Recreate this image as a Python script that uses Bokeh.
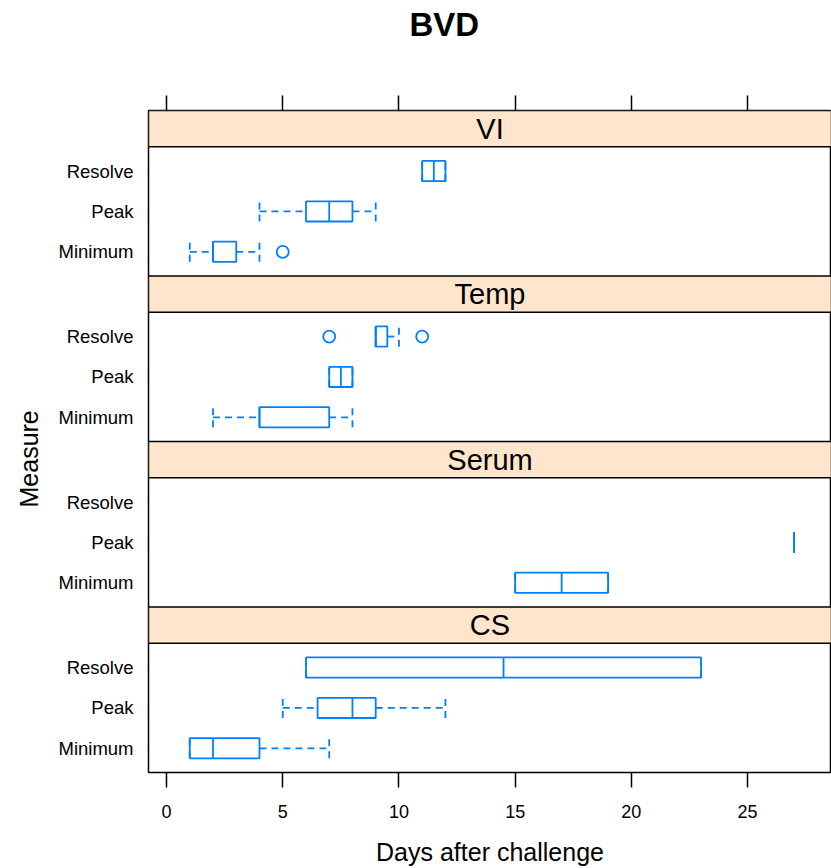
from bokeh.plotting import figure
from bokeh.models import Range1d, FixedTicker, LinearAxis, Title, ColumnDataSource
from bokeh.core.properties import value
from bokeh.embed import file_html
from bokeh.resources import INLINE

# ---------------- data ----------------
chart_title = "BVD"
panels = ["VI", "Temp", "Serum", "CS"]          # top to bottom
measures = ["Minimum", "Peak", "Resolve"]       # bottom to top inside a panel

box_panel = ["VI", "VI", "VI", "Temp", "Temp", "Temp", "Serum", "Serum", "CS", "CS", "CS"]
box_measure = ["Resolve", "Peak", "Minimum", "Resolve", "Peak", "Minimum",
               "Peak", "Minimum", "Resolve", "Peak", "Minimum"]
whisker_lo = [11, 4, 1, 9, 7, 2, 27, 15, 6, 5, 1]
q1 = [11, 6, 2, 9, 7, 4, 27, 15, 6, 6.5, 1]
median = [11.5, 7, 2, 9, 7.5, 4, 27, 17, 14.5, 8, 2]
q3 = [12, 8, 3, 9.5, 8, 7, 27, 19, 23, 9, 4]
whisker_hi = [12, 9, 4, 10, 8, 8, 27, 19, 23, 12, 7]

out_panel = ["VI", "Temp", "Temp"]
out_measure = ["Minimum", "Resolve", "Resolve"]
out_value = [5, 7, 11]

x_ticks = [0, 5, 10, 15, 20, 25]
x_label = "Days after challenge"
y_label = "Measure"

# ---------------- layout helpers ----------------
ROW = 10           # distance between rows in a panel
PANEL_LO = 4       # panel spans offset+4 .. offset+36
PANEL_HI = 36
STRIP = 9          # strip height
BLOCK = PANEL_HI - PANEL_LO + STRIP
HALF = 2.5         # half box height
BLUE = "#0080ff"
FONT = "Liberation Sans"
X0, X1 = -0.775, 28.61


def offset(panel):
    return (len(panels) - 1 - panels.index(panel)) * BLOCK


def ypos(panel, measure):
    return offset(panel) + (measures.index(measure) + 1) * ROW


ys = [ypos(pn, m) for pn, m in zip(box_panel, box_measure)]

p = figure(width=831, height=868, x_range=Range1d(X0, X1),
           y_range=Range1d(PANEL_LO, PANEL_LO + BLOCK * len(panels)),
           output_backend="svg", toolbar_location=None, x_axis_type=None, y_axis_type=None,
           min_border_left=148, min_border_right=0, min_border_top=110, min_border_bottom=95)
p.outline_line_color = "black"
p.outline_line_width = 1.5
p.background_fill_color = "white"
p.border_fill_color = "white"

# title
p.title.text = chart_title
p.title.align = "left"
p.title.offset = 261
p.title.text_font = FONT
p.title.text_font_size = "33px"
p.title.text_font_style = "bold"
p.title.text_color = "black"
p.title.standoff = 4

# strips
strip_src = ColumnDataSource(dict(
    left=[X0] * len(panels), right=[X1] * len(panels),
    bottom=[offset(pn) + PANEL_HI for pn in panels],
    top=[offset(pn) + PANEL_HI + STRIP for pn in panels],
    xc=[(X0 + X1) / 2] * len(panels),
    yc=[offset(pn) + PANEL_HI + STRIP / 2 for pn in panels], name=panels))
p.quad(left="left", right="right", bottom="bottom", top="top", source=strip_src,
       fill_color="#ffe5cc", line_color="black", line_width=1.5)
p.text(x="xc", y="yc", text="name", source=strip_src, text_align="center", text_baseline="middle",
       text_font=value(FONT), text_font_size=value("29px"), text_color="black")

src = ColumnDataSource(dict(y=ys, lo=whisker_lo, q1=q1, med=median, q3=q3, hi=whisker_hi,
                            yb=[y - HALF for y in ys], yt=[y + HALF for y in ys]))
# whiskers
for a, b in (("lo", "q1"), ("q3", "hi")):
    p.segment(x0=a, x1=b, y0="y", y1="y", source=src, line_color=BLUE, line_width=1.8, line_dash="7 5")
for c in ("lo", "hi"):
    p.segment(x0=c, x1=c, y0="yb", y1="yt", source=src, line_color=BLUE, line_width=1.8, line_dash="7 5")
# boxes
p.quad(left="q1", right="q3", bottom="yb", top="yt", source=src, fill_color=None,
       line_color=BLUE, line_width=1.8)
p.segment(x0="med", x1="med", y0="yb", y1="yt", source=src, line_color=BLUE, line_width=1.8)
# outliers
p.scatter(x=out_value, y=[ypos(pn, m) for pn, m in zip(out_panel, out_measure)], marker="circle",
          size=12, fill_color=None, line_color=BLUE, line_width=1.8)

# axes
xb = LinearAxis(ticker=FixedTicker(ticks=x_ticks), axis_label=x_label)
xb.axis_line_color = None
xb.major_tick_out = 15
xb.major_tick_in = 0
xb.minor_tick_out = 0
xb.minor_tick_in = 0
xb.major_tick_line_width = 1.5
xb.major_label_standoff = 17
xb.major_label_text_font = FONT
xb.major_label_text_font_size = "18px"
xb.major_label_text_color = "black"
xb.axis_label_text_font = FONT
xb.axis_label_text_font_size = "25px"
xb.axis_label_text_font_style = "normal"
xb.axis_label_text_color = "black"
xb.axis_label_standoff = 17
p.add_layout(xb, "below")

# top axis: tick marks only (blank labels reserve the space under the title)
xa = LinearAxis(ticker=FixedTicker(ticks=x_ticks), major_label_overrides={t: " " for t in x_ticks})
xa.axis_line_color = None
xa.major_tick_out = 15
xa.major_tick_in = 0
xa.minor_tick_out = 0
xa.minor_tick_in = 0
xa.major_tick_line_width = 1.5
xa.major_label_standoff = 17
xa.major_label_text_font = FONT
xa.major_label_text_font_size = "28px"
p.add_layout(xa, "above")

y_ticks = [ypos(pn, m) for pn in panels for m in measures]
y_names = {ypos(pn, m): m for pn in panels for m in measures}
yl = LinearAxis(ticker=FixedTicker(ticks=y_ticks), major_label_overrides=y_names)
yl.axis_line_color = None
yl.major_tick_out = 0
yl.major_tick_in = 0
yl.minor_tick_out = 0
yl.minor_tick_in = 0
yl.major_label_standoff = 15
yl.major_label_text_font = FONT
yl.major_label_text_font_size = "18.5px"
yl.major_label_text_color = "black"
p.add_layout(yl, "left")

ytitle = Title(text=y_label, align="left", offset=265, text_font=FONT, text_font_size="25px",
               text_font_style="normal", text_color="black", standoff=25)
p.add_layout(ytitle, "left")

open("out.html", "w").write(file_html(p, INLINE))
